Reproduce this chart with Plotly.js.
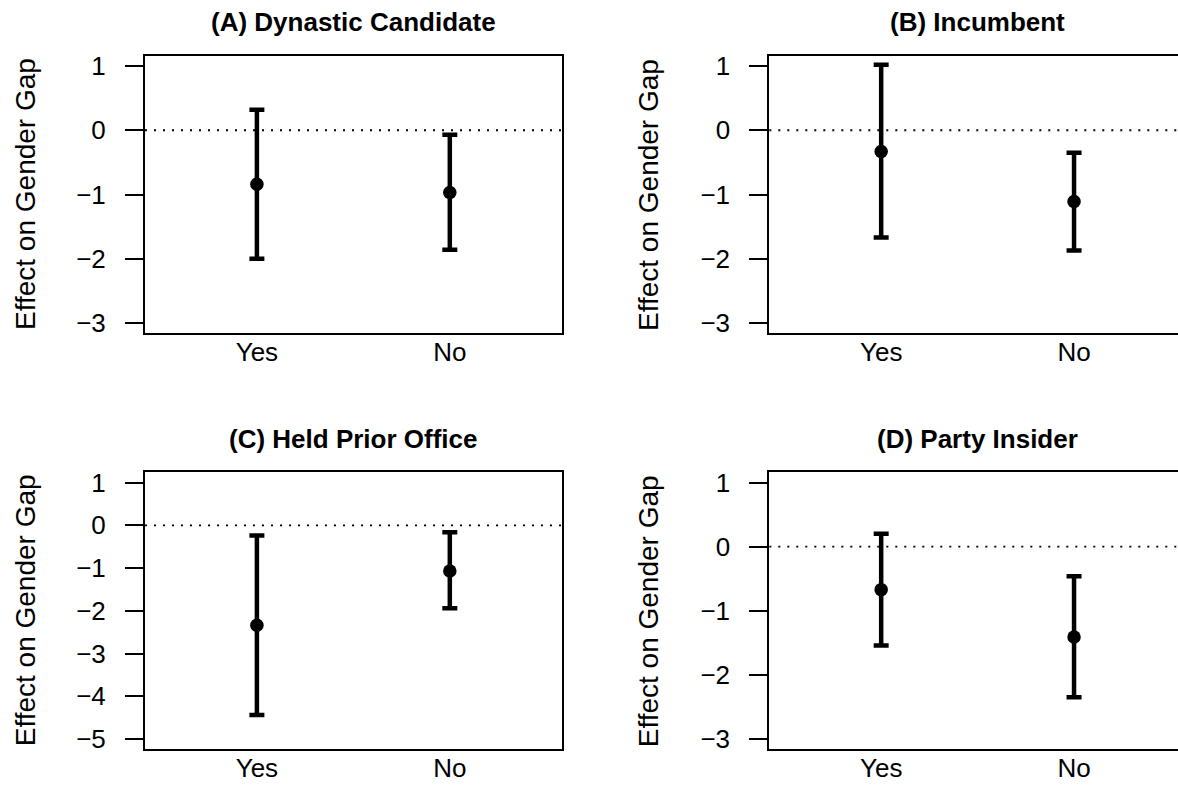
<!DOCTYPE html>
<html>
<head>
<meta charset="utf-8">
<script src="https://cdn.plot.ly/plotly-3.0.1.min.js"></script>
<style>html,body{margin:0;padding:0;background:#fff;overflow:hidden;}</style>
</head>
<body>
<div id="chart" style="width:1178px;height:785px;"></div>
<script>
// ---- data ----
const categories = ['Yes', 'No'];
const panelTitles = ['(A) Dynastic Candidate', '(B) Incumbent', '(C) Held Prior Office', '(D) Party Insider'];
const yAxisTitle = 'Effect on Gender Gap';

const dynasticEst = [-0.84, -0.97];
const dynasticLo  = [-2.00, -1.86];
const dynasticHi  = [0.32, -0.07];

const incumbentEst = [-0.33, -1.11];
const incumbentLo  = [-1.67, -1.87];
const incumbentHi  = [1.02, -0.35];

const priorOfficeEst = [-2.34, -1.07];
const priorOfficeLo  = [-4.44, -1.94];
const priorOfficeHi  = [-0.24, -0.16];

const insiderEst = [-0.67, -1.41];
const insiderLo  = [-1.54, -2.35];
const insiderHi  = [0.20, -0.46];

const yTicksABD = [-3, -2, -1, 0, 1];
const yTicksC   = [-5, -4, -3, -2, -1, 0, 1];

// ---- drawing ----
const FONT = 'Liberation Sans, Arial, Helvetica, sans-serif';
const panels = [
  {est: dynasticEst, lo: dynasticLo, hi: dynasticHi},
  {est: incumbentEst, lo: incumbentLo, hi: incumbentHi},
  {est: priorOfficeEst, lo: priorOfficeLo, hi: priorOfficeHi},
  {est: insiderEst, lo: insiderLo, hi: insiderHi}
];
const suffix = ['', '2', '3', '4'];

const traces = panels.map((p, i) => ({
  type: 'scatter',
  mode: 'markers',
  x: categories,
  y: p.est,
  xaxis: 'x' + suffix[i],
  yaxis: 'y' + suffix[i],
  marker: {color: 'black', size: 13.5},
  error_y: {
    type: 'data', symmetric: false,
    array: p.hi.map((h, k) => h - p.est[k]),
    arrayminus: p.est.map((e, k) => e - p.lo[k]),
    color: 'black', thickness: 4.5, width: 7.5
  },
  showlegend: false,
  hoverinfo: 'skip'
}));

const W = 1178, H = 785;
const leftDom = [145 / W, 561.7 / W];
const rightDom = [769.3 / W, 1];
const topDom = [1 - 333.3 / H, 1 - 55.7 / H];
const botDom = [1 - 749.3 / H, 1 - 472.3 / H];

function xAxis(dom, anchor, range, mirror) {
  return {
    domain: dom, anchor: anchor, type: 'category', range: range,
    showline: true, linecolor: 'black', linewidth: 2, mirror: mirror,
    ticks: '', showgrid: false, zeroline: false,
    ticklabelstandoff: -6,
    tickfont: {family: FONT, size: 26, color: 'black'},
    fixedrange: true
  };
}
function yAxis(dom, anchor, range, ticks, mirror) {
  return {
    domain: dom, anchor: anchor, range: range,
    tickmode: 'array', tickvals: ticks,
    showline: true, linecolor: 'black', linewidth: 2, mirror: mirror,
    ticks: 'outside', ticklen: 18, tickwidth: 2, tickcolor: 'black',
    ticklabelstandoff: 14,
    showgrid: false, zeroline: false,
    tickfont: {family: FONT, size: 26, color: 'black'},
    fixedrange: true
  };
}

const rangeL = [-0.58, 1.58];
const rangeR = [-0.58, 1.539];
const rABD = [-3.16, 1.16];
const rC = [-5.24, 1.24];

const layout = {
  width: W, height: H,
  margin: {l: 0, r: 0, t: 0, b: 0},
  paper_bgcolor: 'white', plot_bgcolor: 'white',
  showlegend: false,
  xaxis:  xAxis(leftDom, 'y', rangeL, true),
  yaxis:  yAxis(topDom, 'x', rABD, yTicksABD, true),
  xaxis2: xAxis(rightDom, 'y2', rangeR, true),
  yaxis2: yAxis(topDom, 'x2', rABD, yTicksABD, false),
  xaxis3: xAxis(leftDom, 'y3', rangeL, true),
  yaxis3: yAxis(botDom, 'x3', rC, yTicksC, true),
  xaxis4: xAxis(rightDom, 'y4', rangeR, true),
  yaxis4: yAxis(botDom, 'x4', rABD, yTicksABD, false),
  shapes: suffix.map(s => ({
    type: 'line', layer: 'below',
    xref: 'x' + s + ' domain', x0: 0, x1: 1,
    yref: 'y' + s, y0: 0, y1: 0,
    line: {color: 'black', width: 1.8, dash: '2px,7px'}
  })),
  annotations: []
};

const titleX = [353.3 / W, 977.7 / W, 353.3 / W, 977.7 / W];
const titleY = [1 - 22.5 / H, 1 - 22.5 / H, 1 - 438.5 / H, 1 - 438.5 / H];
const labX = [25.5 / W, 648.5 / W, 25.5 / W, 648.5 / W];
const labY = [1 - 194.5 / H, 1 - 194.5 / H, 1 - 610.8 / H, 1 - 610.8 / H];

panelTitles.forEach((t, i) => {
  layout.annotations.push({
    text: '<b>' + t + '</b>', xref: 'paper', yref: 'paper',
    x: titleX[i], y: titleY[i], xanchor: 'center', yanchor: 'middle',
    showarrow: false, font: {family: FONT, size: 26, color: 'black'}
  });
  layout.annotations.push({
    text: yAxisTitle, xref: 'paper', yref: 'paper',
    x: labX[i], y: labY[i], xanchor: 'center', yanchor: 'middle',
    textangle: -90, showarrow: false,
    font: {family: FONT, size: 28, color: 'black'}
  });
});

Plotly.newPlot('chart', traces, layout, {displayModeBar: false, staticPlot: true});
</script>
</body>
</html>
